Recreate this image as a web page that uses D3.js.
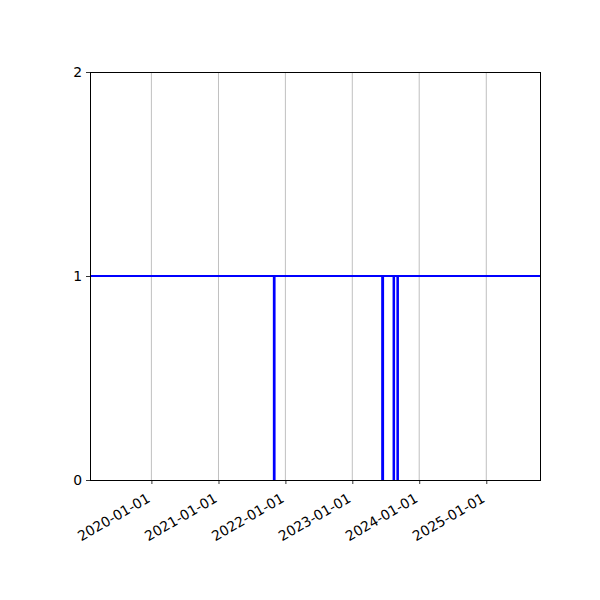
<!DOCTYPE html>
<html>
<head>
<meta charset="utf-8">
<script src="https://cdn.jsdelivr.net/npm/d3@7"></script>
<style>
  body { margin: 0; background: #fff; }
  svg, svg text { font-family: "DejaVu Sans", sans-serif; }
</style>
</head>
<body>
<div id="chart"></div>
<script>
// state over time: 1 = on, 0 = off (step after)
var dates = ['2019-01-31', '2021-10-30', '2021-11-03', '2023-06-13', '2023-06-18',
             '2023-08-14', '2023-08-17', '2023-09-04', '2023-09-07', '2025-10-21']
var values = [1, 0, 1, 0, 1, 0, 1, 0, 1, 1]
var xTicks = ['2020-01-01', '2021-01-01', '2022-01-01', '2023-01-01', '2024-01-01', '2025-01-01']
var yTicks = [0, 1, 2]

var width = 600, height = 600
var margin = { top: 72, right: 60, bottom: 120, left: 90 }
var parse = d3.utcParse('%Y-%m-%d')

var data = dates.map((d, i) => ({ date: parse(d), value: values[i] }))

var x = d3.scaleUtc()
    .domain([parse(dates[0]), parse(dates[dates.length - 1])])
    .range([margin.left, width - margin.right])

var y = d3.scaleLinear()
    .domain([0, 2])
    .range([height - margin.bottom, margin.top])

var svg = d3.select('#chart')
    .append('svg')
    .attr('width', width)
    .attr('height', height)

// vertical grid
svg.append('g')
    .selectAll('line')
    .data(xTicks)
    .join('line')
    .attr('x1', d => x(parse(d)))
    .attr('x2', d => x(parse(d)))
    .attr('y1', margin.top)
    .attr('y2', height - margin.bottom)
    .attr('stroke', '#b0b0b0')
    .attr('stroke-width', 0.8)

var line = d3.line()
    .x(d => x(d.date))
    .y(d => y(d.value))
    .curve(d3.curveStepAfter)

svg.append('path')
    .datum(data)
    .attr('fill', 'none')
    .attr('stroke', '#0000ff')
    .attr('stroke-width', 2)
    .attr('d', line)

// frame
svg.append('rect')
    .attr('x', margin.left)
    .attr('y', margin.top)
    .attr('width', width - margin.left - margin.right)
    .attr('height', height - margin.top - margin.bottom)
    .attr('fill', 'none')
    .attr('stroke', '#000')
    .attr('stroke-width', 1)
    .attr('shape-rendering', 'crispEdges')

// x axis
var xg = svg.append('g')
    .attr('transform', 'translate(0,' + (height - margin.bottom) + ')')
    .call(d3.axisBottom(x)
        .tickValues(xTicks.map(parse))
        .tickFormat(d3.utcFormat('%Y-%m-%d'))
        .tickSize(4)
        .tickPadding(4))
xg.attr('font-family', null)
xg.select('.domain').remove()
xg.selectAll('line').attr('stroke', '#000').attr('stroke-width', 0.8)
xg.selectAll('text')
    .attr('font-size', '13.9px')
    .attr('fill', '#000')
    .style('text-anchor', 'end')
    .attr('y', 0)
    .attr('dy', '0.75em')
    .attr('transform', 'translate(-6,12) rotate(-30)')

// y axis
var yg = svg.append('g')
    .attr('transform', 'translate(' + margin.left + ',0)')
    .call(d3.axisLeft(y)
        .tickValues(yTicks)
        .tickFormat(d3.format('d'))
        .tickSize(4)
        .tickPadding(4))
yg.attr('font-family', null)
yg.select('.domain').remove()
yg.selectAll('line').attr('stroke', '#000').attr('stroke-width', 0.8)
yg.selectAll('text')
    .attr('font-size', '13.9px')
    .attr('fill', '#000')
</script>
</body>
</html>
